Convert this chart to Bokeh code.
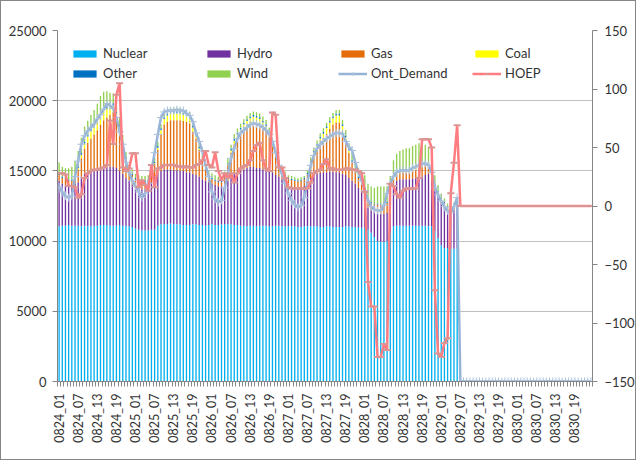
import math
from bokeh.plotting import figure
from bokeh.models import (
    ColumnDataSource,
    Range1d,
    LinearAxis,
    FixedTicker,
    Legend,
    LegendItem,
)
from bokeh.embed import file_html
from bokeh.resources import INLINE

FONT = "Lato"
TEXT_COLOUR = "#333333"
AXIS_COLOUR = "#868686"
GRID_COLOUR = "#C0C0C0"

DAYS = ["0824", "0825", "0826", "0827", "0828", "0829", "0830"]
HOURS = [f"{d}_{h:02d}" for d in DAYS for h in range(1, 25)]

SERIES = ["Nuclear", "Hydro", "Gas", "Coal", "Other", "Wind"]
COLOURS = ["#00B0F0", "#7030A0", "#E46C0A", "#FFFF00", "#0070C0", "#92D050"]

# MW per hour, 0824_01 .. 0829_06 (no data after that)
NUCLEAR = [
    11050, 11100, 11100, 11150, 11100, 11100, 11100, 11050, 11100, 11050, 11050, 11100,
    11100, 11150, 11150, 11150, 11100, 11100, 11100, 11150, 11100, 11100, 11050, 11000,
    10900, 10800, 10750, 10750, 10750, 10800, 10800, 11100, 11200, 11200, 11200, 11250,
    11200, 11200, 11200, 11150, 11150, 11150, 11200, 11200, 11150, 11150, 11100, 11150,
    11200, 11150, 11150, 11200, 11200, 11200, 11200, 11150, 11150, 11100, 11100, 11050,
    11100, 11100, 11050, 11100, 11100, 11100, 11050, 11050, 11100, 11100, 11050, 11050,
    11050, 11050, 11050, 11000, 11000, 11050, 11050, 11050, 11050, 11050, 11000, 11000,
    11050, 11050, 11000, 11000, 11000, 11000, 11050, 11050, 11000, 11000, 10950, 10950,
    10950, 10800, 10600, 10300, 10000, 9950, 9950, 10000, 10600, 11050, 11100, 11100,
    11100, 11100, 11100, 11100, 11100, 11100, 11100, 11100, 11050, 11050, 10700, 10200,
    9700, 9500, 9500, 9450, 9450, 9500,
]
HYDRO = [
    3250, 3000, 2900, 2750, 2800, 3000, 3100, 3550, 3700, 3850, 3950, 4000,
    4000, 4050, 4100, 4150, 4200, 4200, 4100, 3850, 3700, 3400, 3250, 3000,
    3100, 3000, 2950, 2950, 3050, 3400, 3800, 3800, 3800, 3900, 3900, 3850,
    3850, 3850, 3800, 3850, 3750, 3750, 3600, 3500, 3450, 3250, 3200, 3050,
    2900, 2850, 2750, 2700, 2800, 3100, 3400, 3650, 3750, 3900, 4000, 4150,
    4200, 4200, 4150, 4100, 4000, 3900, 3950, 3850, 3600, 3500, 3350, 3250,
    2950, 2850, 2800, 2800, 2850, 2900, 3150, 3450, 3650, 3750, 3850, 3900,
    3850, 3900, 3950, 3900, 3900, 3800, 3650, 3450, 3300, 3100, 2850, 2550,
    2050, 1600, 1600, 1800, 2000, 2000, 2000, 2000, 2400, 2950, 3200, 3300,
    3300, 3300, 3300, 3350, 3400, 3400, 3500, 3600, 3750, 3250, 2900, 3000,
    3000, 2900, 2700, 2650, 2750, 2900,
]
GAS = [
    400, 400, 400, 400, 400, 500, 900, 1300, 1800, 2100, 2300, 2500,
    2800, 3100, 3350, 3500, 3700, 3900, 3500, 2900, 2000, 1300, 800, 700,
    400, 500, 500, 500, 500, 500, 900, 1600, 2600, 3200, 3400, 3500,
    3550, 3550, 3600, 3550, 3600, 3500, 3000, 2600, 1900, 1300, 800, 400,
    300, 300, 300, 300, 600, 1100, 1700, 2100, 2400, 2600, 2800, 2900,
    3000, 3100, 3200, 3100, 3000, 2900, 2400, 1800, 1300, 800, 500, 300,
    400, 450, 450, 450, 450, 450, 500, 950, 1350, 1700, 2100, 2350,
    2750, 3050, 3350, 3550, 3550, 3000, 2400, 1800, 1300, 900, 700, 700,
    700, 600, 500, 500, 600, 650, 650, 700, 500, 500, 500, 500,
    500, 500, 500, 550, 600, 700, 700, 700, 600, 500, 400, 300,
    300, 300, 200, 200, 200, 300,
]
COAL = [
    0, 0, 0, 0, 0, 0, 100, 250, 350, 450, 550, 600,
    650, 700, 700, 650, 550, 500, 400, 300, 150, 50, 0, 0,
    0, 0, 0, 0, 0, 0, 50, 150, 300, 400, 450, 500,
    500, 500, 500, 450, 450, 400, 300, 200, 100, 50, 0, 0,
    0, 0, 0, 0, 0, 50, 150, 250, 300, 350, 400, 450,
    450, 450, 400, 400, 350, 300, 200, 100, 50, 0, 0, 0,
    0, 0, 0, 0, 0, 0, 50, 150, 250, 300, 350, 400,
    400, 450, 450, 500, 500, 400, 300, 150, 50, 0, 0, 0,
    0, 0, 0, 0, 0, 0, 0, 0, 0, 50, 100, 100,
    100, 100, 100, 150, 150, 150, 100, 50, 0, 0, 0, 0,
    0, 0, 0, 0, 0, 0,
]
OTHER = [
    100, 100, 90, 90, 90, 100, 110, 120, 120, 130, 130, 130,
    130, 130, 130, 130, 120, 120, 120, 110, 110, 100, 100, 100,
    100, 90, 90, 90, 90, 100, 110, 120, 130, 130, 130, 140,
    140, 140, 130, 130, 130, 120, 120, 120, 110, 110, 100, 100,
    90, 90, 90, 90, 100, 100, 110, 120, 120, 120, 130, 130,
    130, 130, 130, 130, 130, 120, 120, 110, 110, 100, 100, 100,
    90, 90, 90, 80, 90, 90, 100, 110, 120, 120, 130, 130,
    130, 130, 130, 130, 130, 120, 120, 110, 110, 100, 100, 90,
    90, 90, 80, 80, 80, 80, 90, 100, 110, 110, 120, 120,
    120, 120, 120, 120, 120, 120, 110, 110, 100, 100, 90, 90,
    90, 90, 80, 80, 80, 90,
]
WIND = [
    800, 700, 700, 800, 900, 1000, 1100, 1100, 1100, 1000, 1000, 1000,
    1100, 1200, 1200, 1100, 900, 700, 600, 500, 500, 400, 300, 300,
    300, 300, 350, 350, 300, 300, 300, 300, 300, 300, 250, 250,
    250, 250, 250, 250, 250, 300, 300, 300, 300, 300, 300, 300,
    350, 300, 300, 250, 250, 300, 300, 350, 300, 300, 250, 250,
    250, 250, 250, 250, 300, 300, 350, 350, 300, 300, 250, 250,
    200, 200, 150, 150, 150, 150, 200, 250, 250, 250, 250, 250,
    250, 250, 250, 250, 250, 300, 400, 400, 500, 500, 600, 700,
    900, 1000, 1100, 1100, 1200, 1200, 1200, 1100, 1000, 1100, 1200, 1300,
    1400, 1500, 1500, 1500, 1500, 1500, 1400, 1300, 1200, 900, 600, 400,
    300, 250, 200, 200, 250, 300,
]

# Ontario demand (MW) and HOEP ($/MWh), every hour 0824_01 .. 0830_24
ONT_DEMAND = [
    13850, 13500, 13200, 13100, 13200, 14600, 15700, 16900, 17500, 17850, 18100, 18350,
    18700, 19000, 19400, 19800, 19650, 19450, 18800, 17800, 16900, 15600, 14900, 14300,
    13900, 13500, 13100, 13400, 14100, 15000, 16300, 17600, 18800, 19200, 19300, 19300,
    19300, 19350, 19300, 19300, 19100, 18950, 18500, 17700, 17100, 16400, 15400, 14600,
    13500, 13000, 12750, 12900, 13800, 14800, 15900, 16600, 17300, 17700, 17900, 18100,
    18300, 18400, 18350, 18250, 18100, 17900, 17600, 17100, 16300, 15400, 14800, 14100,
    13400, 12900, 12600, 12400, 12550, 13100, 14200, 15400, 16100, 16600, 16900, 17100,
    17300, 17450, 17600, 17700, 17700, 17650, 17100, 16700, 16450, 15600, 14900, 14300,
    13600, 12900, 12450, 12250, 12180, 12180, 12550, 13400, 14100, 14600, 14900, 15030,
    15030, 15030, 15030, 15200, 15300, 15400, 15500, 15550, 15400, 14900, 13820, 13300,
    12850, 12450, 12150, 12050, 12450, 13100, 0, 0, 0, 0, 0, 0,
    0, 0, 0, 0, 0, 0, 0, 0, 0, 0, 0, 0,
    0, 0, 0, 0, 0, 0, 0, 0, 0, 0, 0, 0,
    0, 0, 0, 0, 0, 0, 0, 0, 0, 0, 0, 0,
]
HOEP = [
    28, 28, 27, 17, 17, 16, 7, 10, 24, 28, 30, 31,
    31, 32, 33, 35, 73, 53, 95, 105, 33, 30, 32, 45,
    45, 16, 22, 18, 13, 35, 16, 32, 33, 35, 35, 35,
    35, 34, 34, 33, 34, 33, 33, 35, 36, 39, 47, 35,
    33, 46, 30, 22, 28, 24, 28, 20, 28, 32, 34, 35,
    39, 47, 52, 54, 39, 32, 30, 80, 78, 33, 33, 24,
    16, 15, 15, 15, 15, 15, 15, 20, 28, 30, 31, 36,
    40, 32, 32, 31, 31, 31, 32, 32, 31, 31, 30, 28,
    12, -65, -86, -86, -129, -129, -118, -123, 19, 17, 10, 7,
    13, 15, 15, 15, 15, 24, 57, 57, 57, 50, -72, -126,
    -129, -117, -113, 11, 37, 69, 0, 0, 0, 0, 0, 0,
    0, 0, 0, 0, 0, 0, 0, 0, 0, 0, 0, 0,
    0, 0, 0, 0, 0, 0, 0, 0, 0, 0, 0, 0,
    0, 0, 0, 0, 0, 0, 0, 0, 0, 0, 0, 0,
]

LEFT_TICKS = [0, 5000, 10000, 15000, 20000, 25000]
RIGHT_TICKS = [-150, -100, -50, 0, 50, 100, 150]


def style_axis(axis, size="13px"):
    axis.axis_line_color = AXIS_COLOUR
    axis.major_tick_line_color = AXIS_COLOUR
    axis.minor_tick_line_color = None
    axis.major_tick_in = 0
    axis.major_tick_out = 5
    axis.major_label_text_font = FONT
    axis.major_label_text_font_size = size
    axis.major_label_text_color = TEXT_COLOUR


bar_src = ColumnDataSource(dict(
    x=list(range(len(NUCLEAR))),
    Nuclear=NUCLEAR, Hydro=HYDRO, Gas=GAS, Coal=COAL, Other=OTHER, Wind=WIND,
))
line_src = ColumnDataSource(dict(
    x=list(range(len(HOURS))), demand=ONT_DEMAND, hoep=HOEP,
))

# plot area sits at x 57..593, y 30..381 of the page (1px chart border included)
p = figure(
    width=636,
    height=460,
    x_range=Range1d(-0.5, len(HOURS) - 0.5),
    y_range=Range1d(0, 25000),
    output_backend="svg",
    toolbar_location=None,
    tools="",
    min_border_left=56,
    min_border_right=44,
    min_border_top=29,
    min_border_bottom=80,
)
p.styles = {"border": "1px solid #868686"}
p.outline_line_color = None
p.background_fill_color = "white"
p.xgrid.visible = False

p.yaxis.ticker = FixedTicker(ticks=LEFT_TICKS)
p.yaxis.major_label_standoff = 6
style_axis(p.yaxis[0])
p.ygrid.grid_line_color = GRID_COLOUR

p.extra_y_ranges = {"hoep": Range1d(-150, 150)}
right = LinearAxis(y_range_name="hoep", ticker=FixedTicker(ticks=RIGHT_TICKS))
style_axis(right)
right.major_label_standoff = 7
p.add_layout(right, "right")

xaxis = p.xaxis[0]
xaxis.ticker = FixedTicker(
    ticks=list(range(0, len(HOURS), 6)),
    minor_ticks=[i - 0.5 for i in range(len(HOURS) + 1)],
)
xaxis.major_label_overrides = {i: HOURS[i] for i in range(0, len(HOURS), 6)}
xaxis.major_label_orientation = math.pi / 2
style_axis(xaxis, "12.5px")
xaxis.major_tick_out = 0
xaxis.minor_tick_line_color = AXIS_COLOUR
xaxis.minor_tick_in = 0
xaxis.minor_tick_out = 5
xaxis.major_label_standoff = 7

bars = p.vbar_stack(
    SERIES, x="x", width=0.42, color=COLOURS, line_color=None, source=bar_src,
)

dem_line = p.line("x", "demand", source=line_src, line_color="#95B3D7", line_width=2.5)
dem_mark = p.scatter("x", "demand", source=line_src, marker="cross", size=8,
                     line_color="#A9C0DD", line_width=1)
hoep_line = p.line("x", "hoep", source=line_src, y_range_name="hoep",
                   line_color="#FF7C80", line_width=2.5)
hoep_mark = p.scatter("x", "hoep", source=line_src, y_range_name="hoep", marker="dash",
                      size=7, line_color="#D99694", line_width=2)


def make_legend(items, loc):
    leg = Legend(items=items, location=loc, orientation="horizontal")
    leg.border_line_color = None
    leg.background_fill_alpha = 0
    leg.padding = 0
    leg.margin = 0
    leg.spacing = 0
    leg.glyph_width = 29
    leg.glyph_height = 9
    leg.label_standoff = 4
    leg.label_width = 101
    leg.label_height = 16
    leg.label_text_font = FONT
    leg.label_text_font_size = "13px"
    leg.label_text_color = TEXT_COLOUR
    return leg


row1 = [LegendItem(label=SERIES[i], renderers=[bars[i]]) for i in range(4)]
row2 = [
    LegendItem(label="Other", renderers=[bars[4]]),
    LegendItem(label="Wind", renderers=[bars[5]]),
    LegendItem(label="Ont_Demand", renderers=[dem_line, dem_mark]),
    LegendItem(label="HOEP", renderers=[hoep_line, hoep_mark]),
]
p.add_layout(make_legend(row1, (13, 320)))
p.add_layout(make_legend(row2, (13, 300)))

open("out.html", "w").write(file_html(p, INLINE))
